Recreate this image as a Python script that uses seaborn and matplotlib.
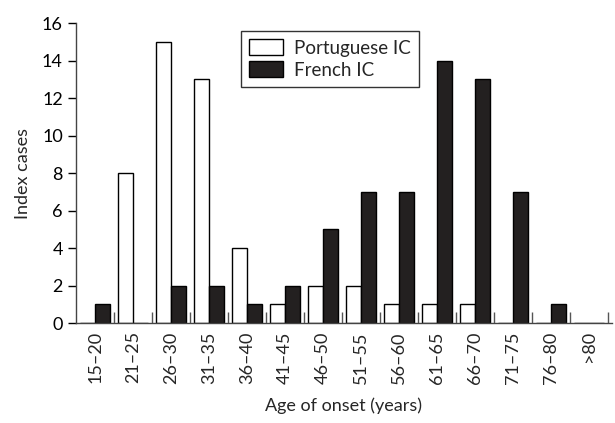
import pandas as pd
import matplotlib.pyplot as plt
import seaborn as sns
from matplotlib.ticker import FixedLocator

ages = ['15–20', '21–25', '26–30', '31–35', '36–40', '41–45', '46–50',
        '51–55', '56–60', '61–65', '66–70', '71–75', '76–80', '>80']
portuguese = [0, 8, 15, 13, 4, 1, 2, 2, 1, 1, 1, 0, 0, 0]
french = [1, 0, 2, 2, 1, 2, 5, 7, 7, 14, 13, 7, 1, 0]

df = pd.DataFrame({
    'age': ages * 2,
    'cases': portuguese + french,
    'group': ['Portuguese IC'] * len(ages) + ['French IC'] * len(ages),
})

sns.set_style('ticks')
plt.rcParams['font.family'] = ['Lato', 'DejaVu Sans']

fig = plt.figure(figsize=(6.15, 4.23), dpi=100)
ax = fig.add_axes([0.1236, 0.2364, 0.8714, 0.7092])

sns.barplot(data=df, x='age', y='cases', hue='group', order=ages,
            palette={'Portuguese IC': 'white', 'French IC': '#231f20'},
            edgecolor='black', linewidth=1, width=0.8, ax=ax)

ax.set_ylim(0, 16)
ax.set_yticks(range(0, 17, 2))
ax.set_xlim(-0.5, 13.6)
ax.tick_params(axis='y', direction='out', length=6, width=1, labelsize=13, colors='black')
ax.tick_params(axis='x', which='major', length=0, labelsize=13, rotation=90, pad=6)
ax.xaxis.set_minor_locator(FixedLocator([i + 0.5 for i in range(14)]))
ax.tick_params(axis='x', which='minor', direction='in', length=8, width=1, color='#555555')

sns.despine(ax=ax)
for s in ['left', 'bottom']:
    ax.spines[s].set_linewidth(1)
    ax.spines[s].set_color('#444444')

ax.set_ylabel('Index cases', fontsize=13, labelpad=8)
ax.set_xlabel('Age of onset (years)', fontsize=13, labelpad=10)

leg = ax.legend(loc='upper left', bbox_to_anchor=(0.29, 1.005), frameon=True,
                fancybox=False, edgecolor='black', fontsize=13.5,
                handlelength=1.8, handleheight=0.9, borderpad=0.45,
                labelspacing=0.25, handletextpad=0.6)
leg.get_frame().set_linewidth(1)

fig.savefig('out.png', dpi=100)
